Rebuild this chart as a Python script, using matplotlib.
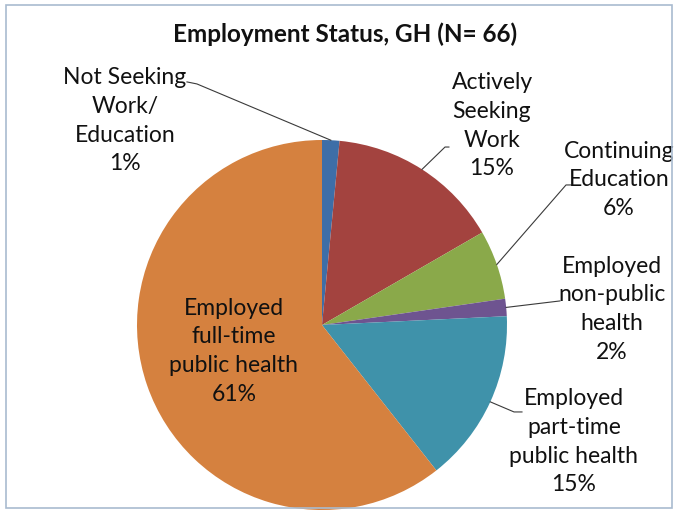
import numpy as np
import matplotlib.pyplot as plt
from matplotlib.patches import Rectangle

# dados do grafico (N = 66)
categorias = ['Not Seeking\nWork/\nEducation', 'Actively\nSeeking\nWork', 'Continuing\nEducation',
              'Employed\nnon-public\nhealth', 'Employed\npart-time\npublic health',
              'Employed\nfull-time\npublic health']
contagens = [1, 10, 4, 1, 10, 40]
percentuais = ['1%', '15%', '6%', '2%', '15%', '61%']
cores = ['#3E6EA7', '#A3433F', '#8AA94A', '#6E5490', '#3F92AA', '#D5813F']

plt.rcParams['font.family'] = ['Lato', 'DejaVu Sans']

W, H = 678, 511
fig = plt.figure(figsize=(W / 100, H / 100), dpi=100)
fig.patches.append(Rectangle((6 / W, 3 / H), 666 / W, 503 / H, transform=fig.transFigure,
                             fill=False, edgecolor='#A9BBCF', lw=1.2, zorder=0))

fig.text(345 / W, 1 - 34 / H, 'Employment Status, GH (N= 66)', ha='center', va='center',
         fontsize=17.5, fontweight='bold', color='#111111')

# centro do pie em (322, 325) px, raio 185 px
ax = fig.add_axes([137 / W, 1 / H, 370 / W, 370 / H])

wedges, _ = ax.pie(contagens, colors=cores, startangle=90, counterclock=False, radius=1,
                   wedgeprops=dict(linewidth=0))
ax.set_xlim(-1, 1)
ax.set_ylim(-1, 1)
ax.axis('off')

# posicoes dos rotulos (centro do bloco de texto) e do fim das linhas guia
pos_rotulos = [(-1.065, 1.103), (0.919, 1.076), (1.605, 0.784), (1.568, 0.086), (1.362, -0.632), (-0.476, -0.141)]
fim_linhas = [[(-0.676, 1.303), (-0.730, 1.314)],
              [(0.665, 0.962), (0.686, 0.962)],
              [(1.319, 0.757), (1.351, 0.757)],
              [(1.286, 0.130)],
              [(1.038, -0.470), (1.081, -0.470)],
              None]

for w, cat, pct, pos, fim in zip(wedges, categorias, percentuais, pos_rotulos, fim_linhas):
    ax.text(pos[0], pos[1], cat + '\n' + pct, ha='center', va='center', fontsize=16.5,
            linespacing=1.45, color='#111111', clip_on=False)
    if fim is None:
        continue
    ang = np.deg2rad((w.theta1 + w.theta2) / 2)
    xs = [np.cos(ang)] + [p[0] for p in fim]
    ys = [np.sin(ang)] + [p[1] for p in fim]
    ax.plot(xs, ys, color='#3A3A3A', lw=0.8, clip_on=False)

plt.savefig('out.png', dpi=100)
